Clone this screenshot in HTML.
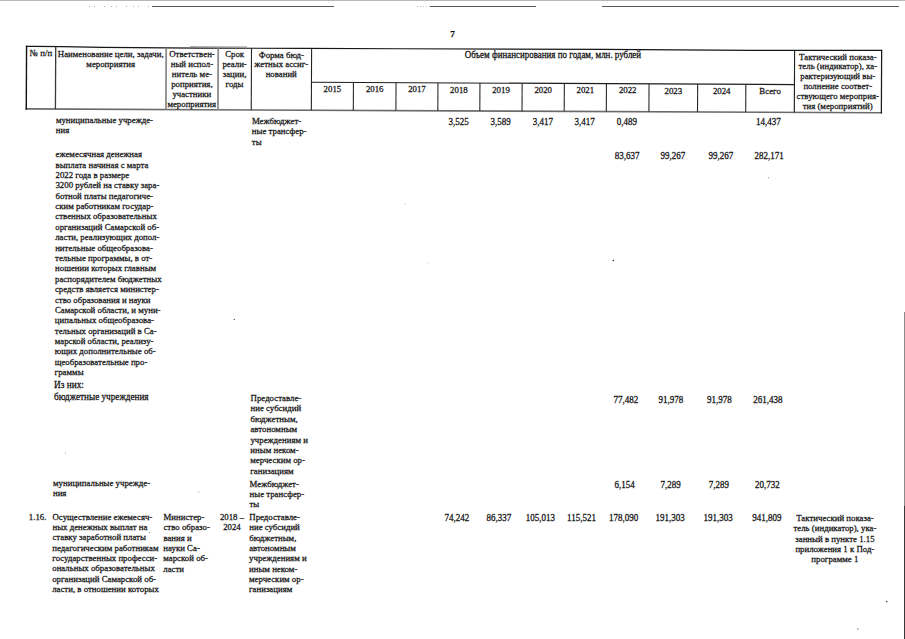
<!DOCTYPE html>
<html><head><meta charset="utf-8"><title>7</title>
<style>
html,body{margin:0;padding:0;background:#fff;}
body{width:905px;height:639px;overflow:hidden;position:relative;font-family:"Liberation Serif",serif;color:#161616;}
svg{position:absolute;left:0;top:0;}
.t{position:absolute;white-space:nowrap;font-size:8.8px;line-height:10px;-webkit-text-stroke:0.26px #161616;transform:scaleY(1.05);transform-origin:0 8px;}
.c{text-align:center;}
.pn{position:absolute;left:450.2px;top:28.6px;font-size:9.2px;font-weight:bold;line-height:10px;-webkit-text-stroke:0.25px #111;color:#111;}
</style></head><body>
<svg width="905" height="639" viewBox="0 0 905 639">
<rect x="0" y="0" width="905" height="1" fill="#b8b8b8"/>
<g stroke-linecap="butt">
<line x1="152" y1="6.5" x2="334" y2="6.5" stroke="#5a5a5a" stroke-width="1"/>
<line x1="430" y1="6.5" x2="536" y2="6.5" stroke="#5a5a5a" stroke-width="1"/>
<line x1="602" y1="6.5" x2="899" y2="6.5" stroke="#5a5a5a" stroke-width="1"/>
<polyline fill="none" stroke="#161616" stroke-width="1.2" points="25.80,46.40 34.00,46.46 62.00,46.70 102.00,47.35 200.00,48.10 302.00,48.38 400.00,48.75 602.00,49.41 752.00,50.35 869.00,50.38 882.20,50.45"/>
<line x1="190" y1="46.75" x2="247" y2="47.0" stroke="#777" stroke-width="0.8"/>
<line x1="25.6" y1="108.89" x2="882.2" y2="112.81" stroke="#6a6a6a" stroke-width="1.6"/>
<line x1="26.56" y1="45.80" x2="26.27" y2="109.69" stroke="#111" stroke-width="1.4"/>
<line x1="881.65" y1="49.80" x2="881.36" y2="113.60" stroke="#1a1a1a" stroke-width="1.25"/>
<line x1="55.72" y1="46.64" x2="55.43" y2="109.02" stroke="#3a3a3a" stroke-width="1.3"/>
<line x1="166.21" y1="47.84" x2="165.93" y2="109.53" stroke="#8c8c8c" stroke-width="1.8"/>
<line x1="218.21" y1="48.15" x2="217.93" y2="109.77" stroke="#8c8c8c" stroke-width="1.8"/>
<line x1="251.51" y1="48.24" x2="251.23" y2="109.92" stroke="#262626" stroke-width="1.1"/>
<line x1="311.61" y1="48.42" x2="311.33" y2="110.20" stroke="#222" stroke-width="1.1"/>
<line x1="794.60" y1="50.36" x2="794.32" y2="112.41" stroke="#222" stroke-width="1.15"/>
<line x1="311.4" y1="82.27" x2="794.4" y2="84.55" stroke="#1c1c1c" stroke-width="1.15"/>
<line x1="353.45" y1="82.47" x2="353.32" y2="110.39" stroke="#2a2a2a" stroke-width="1.1"/>
<line x1="396.05" y1="82.67" x2="395.92" y2="110.58" stroke="#2a2a2a" stroke-width="1.1"/>
<line x1="437.95" y1="82.87" x2="437.82" y2="110.78" stroke="#2a2a2a" stroke-width="1.1"/>
<line x1="479.95" y1="83.06" x2="479.82" y2="110.97" stroke="#2a2a2a" stroke-width="1.1"/>
<line x1="522.15" y1="83.26" x2="522.02" y2="111.16" stroke="#2a2a2a" stroke-width="1.1"/>
<line x1="564.35" y1="83.46" x2="564.22" y2="111.35" stroke="#2a2a2a" stroke-width="1.1"/>
<line x1="606.45" y1="83.66" x2="606.32" y2="111.55" stroke="#2a2a2a" stroke-width="1.1"/>
<line x1="649.05" y1="83.86" x2="648.92" y2="111.74" stroke="#2a2a2a" stroke-width="1.1"/>
<line x1="697.65" y1="84.09" x2="697.52" y2="111.96" stroke="#2a2a2a" stroke-width="1.1"/>
<line x1="745.84" y1="84.32" x2="745.72" y2="112.19" stroke="#2a2a2a" stroke-width="1.1"/>
<line x1="904.5" y1="312" x2="904.5" y2="505.5" stroke="#8a8a8a" stroke-width="1"/>
<line x1="904.5" y1="505.5" x2="904.5" y2="639" stroke="#383838" stroke-width="1"/>
<line x1="89" y1="6.5" x2="152" y2="6.5" stroke="#b0b0b0" stroke-width="1" stroke-dasharray="1 4 1 9 1 6"/>
<line x1="417" y1="6.5" x2="430" y2="6.5" stroke="#c0c0c0" stroke-width="1" stroke-dasharray="1 2"/>
</g>
<g fill="#555">
<circle cx="768.5" cy="177.7" r="0.6" fill="#999"/>
<circle cx="405" cy="204" r="0.6" fill="#bbb"/>
<circle cx="428" cy="263" r="0.6" fill="#ccc"/>
<circle cx="613.3" cy="260.5" r="0.75" fill="#222"/>
<circle cx="65.4" cy="453.1" r="0.6" fill="#999"/>
<circle cx="198.7" cy="491.8" r="0.6" fill="#999"/>
<circle cx="886.7" cy="601.6" r="0.8" fill="#444"/>
<circle cx="857.8" cy="629" r="0.7" fill="#777"/>
<circle cx="149.5" cy="532.5" r="0.5" fill="#777"/>
<circle cx="234.3" cy="319.4" r="0.7" fill="#555"/>
</g>
</svg>
<div class="pn">7</div>
<div class="t c" style="left:23.50px;width:35.00px;top:47.80px;">№ п/п</div>
<div class="t c" style="left:52.50px;width:116.50px;top:48.70px;">Наименование цели, задачи,</div>
<div class="t c" style="left:52.45px;width:116.50px;top:58.65px;">мероприятия</div>
<div class="t c" style="left:163.00px;width:58.00px;top:49.30px;">Ответствен-</div>
<div class="t c" style="left:162.95px;width:58.00px;top:59.25px;">ный испол-</div>
<div class="t c" style="left:162.91px;width:58.00px;top:69.20px;">нитель ме-</div>
<div class="t c" style="left:162.86px;width:58.00px;top:79.15px;">роприятия,</div>
<div class="t c" style="left:162.82px;width:58.00px;top:89.10px;">участники</div>
<div class="t c" style="left:162.77px;width:58.00px;top:99.05px;">мероприятия</div>
<div class="t c" style="left:215.00px;width:39.30px;top:49.40px;">Срок</div>
<div class="t c" style="left:214.95px;width:39.30px;top:59.35px;">реали-</div>
<div class="t c" style="left:214.91px;width:39.30px;top:69.30px;">зации,</div>
<div class="t c" style="left:214.86px;width:39.30px;top:79.25px;">годы</div>
<div class="t c" style="left:248.30px;width:66.10px;top:49.50px;">Форма бюд-</div>
<div class="t c" style="left:248.25px;width:66.10px;top:59.45px;">жетных ассиг-</div>
<div class="t c" style="left:248.21px;width:66.10px;top:69.40px;">нований</div>
<div class="t c" style="left:308.40px;width:489.00px;top:49.70px;font-size:8.95px;">Объем финансирования по годам, млн. рублей</div>
<div class="t c" style="left:308.40px;width:48.00px;top:84.01px;">2015</div>
<div class="t c" style="left:350.40px;width:48.60px;top:84.20px;">2016</div>
<div class="t c" style="left:393.00px;width:47.90px;top:84.40px;">2017</div>
<div class="t c" style="left:434.90px;width:48.00px;top:84.59px;">2018</div>
<div class="t c" style="left:476.90px;width:48.20px;top:84.78px;">2019</div>
<div class="t c" style="left:519.10px;width:48.20px;top:84.98px;">2020</div>
<div class="t c" style="left:561.30px;width:48.10px;top:85.17px;">2021</div>
<div class="t c" style="left:603.40px;width:48.60px;top:85.37px;">2022</div>
<div class="t c" style="left:646.00px;width:54.60px;top:85.58px;">2023</div>
<div class="t c" style="left:694.60px;width:54.20px;top:85.80px;">2024</div>
<div class="t c" style="left:742.80px;width:54.60px;top:86.02px;">Всего</div>
<div class="t c" style="left:791.40px;width:93.00px;top:51.60px;">Тактический показа-</div>
<div class="t c" style="left:791.35px;width:93.00px;top:61.40px;">тель (индикатор), ха-</div>
<div class="t c" style="left:791.31px;width:93.00px;top:71.20px;">рактеризующий вы-</div>
<div class="t c" style="left:791.26px;width:93.00px;top:81.00px;">полнение соответ-</div>
<div class="t c" style="left:791.22px;width:93.00px;top:90.80px;">ствующего мероприя-</div>
<div class="t c" style="left:791.17px;width:93.00px;top:100.60px;">тия (мероприятий)</div>
<div class="t" style="left:55.90px;top:115.30px;">муниципальные учрежде-</div>
<div class="t" style="left:55.85px;top:125.30px;">ния</div>
<div class="t" style="left:251.90px;top:115.80px;">Межбюджет-</div>
<div class="t" style="left:251.85px;top:126.30px;">ные трансфер-</div>
<div class="t" style="left:251.80px;top:136.80px;">ты</div>
<div class="t" style="left:448.60px;top:117.00px;font-size:9.0px;">3,525</div>
<div class="t" style="left:490.40px;top:117.00px;font-size:9.0px;">3,589</div>
<div class="t" style="left:532.70px;top:117.00px;font-size:9.0px;">3,417</div>
<div class="t" style="left:574.50px;top:117.00px;font-size:9.0px;">3,417</div>
<div class="t" style="left:616.80px;top:117.00px;font-size:9.0px;">0,489</div>
<div class="t" style="left:755.90px;top:117.00px;font-size:9.0px;">14,437</div>
<div class="t" style="left:55.60px;top:149.20px;">ежемесячная денежная</div>
<div class="t" style="left:55.55px;top:159.58px;">выплата начиная с марта</div>
<div class="t" style="left:55.50px;top:169.96px;">2022 года в размере</div>
<div class="t" style="left:55.46px;top:180.34px;">3200 рублей на ставку зара-</div>
<div class="t" style="left:55.41px;top:190.72px;">ботной платы педагогиче-</div>
<div class="t" style="left:55.36px;top:201.10px;">ским работникам государ-</div>
<div class="t" style="left:55.31px;top:211.48px;">ственных образовательных</div>
<div class="t" style="left:55.27px;top:221.86px;">организаций Самарской об-</div>
<div class="t" style="left:55.22px;top:232.24px;">ласти, реализующих допол-</div>
<div class="t" style="left:55.17px;top:242.62px;">нительные общеобразова-</div>
<div class="t" style="left:55.12px;top:253.00px;">тельные программы, в от-</div>
<div class="t" style="left:55.07px;top:263.38px;">ношении которых главным</div>
<div class="t" style="left:55.03px;top:273.76px;">распорядителем бюджетных</div>
<div class="t" style="left:54.98px;top:284.14px;">средств является министер-</div>
<div class="t" style="left:54.93px;top:294.52px;">ство образования и науки</div>
<div class="t" style="left:54.88px;top:304.90px;">Самарской области, и муни-</div>
<div class="t" style="left:54.84px;top:315.28px;">ципальных общеобразова-</div>
<div class="t" style="left:54.79px;top:325.66px;">тельных организаций в Са-</div>
<div class="t" style="left:54.74px;top:336.04px;">марской области, реализу-</div>
<div class="t" style="left:54.69px;top:346.42px;">ющих дополнительные об-</div>
<div class="t" style="left:54.65px;top:356.80px;">щеобразовательные про-</div>
<div class="t" style="left:54.60px;top:367.18px;">граммы</div>
<div class="t" style="left:614.70px;top:151.20px;font-size:9.0px;">83,637</div>
<div class="t" style="left:660.50px;top:151.20px;font-size:9.0px;">99,267</div>
<div class="t" style="left:708.50px;top:151.20px;font-size:9.0px;">99,267</div>
<div class="t" style="left:754.40px;top:151.20px;font-size:9.0px;">282,171</div>
<div class="t" style="left:54.00px;top:379.60px;font-size:9.3px;">Из них:</div>
<div class="t" style="left:54.00px;top:392.00px;font-size:9.2px;">бюджетные учреждения</div>
<div class="t" style="left:250.60px;top:393.00px;">Предоставле-</div>
<div class="t" style="left:250.55px;top:403.40px;">ние субсидий</div>
<div class="t" style="left:250.50px;top:413.80px;">бюджетным,</div>
<div class="t" style="left:250.46px;top:424.20px;">автономным</div>
<div class="t" style="left:250.41px;top:434.60px;">учреждениям и</div>
<div class="t" style="left:250.36px;top:445.00px;">иным неком-</div>
<div class="t" style="left:250.31px;top:455.40px;">мерческим ор-</div>
<div class="t" style="left:250.27px;top:465.80px;">ганизациям</div>
<div class="t" style="left:613.40px;top:394.90px;font-size:9.0px;">77,482</div>
<div class="t" style="left:658.60px;top:394.90px;font-size:9.0px;">91,978</div>
<div class="t" style="left:706.90px;top:394.90px;font-size:9.0px;">91,978</div>
<div class="t" style="left:753.30px;top:394.90px;font-size:9.0px;">261,438</div>
<div class="t" style="left:53.00px;top:477.60px;">муниципальные учрежде-</div>
<div class="t" style="left:52.95px;top:487.90px;">ния</div>
<div class="t" style="left:249.60px;top:478.70px;">Межбюджет-</div>
<div class="t" style="left:249.55px;top:489.00px;">ные трансфер-</div>
<div class="t" style="left:249.51px;top:499.30px;">ты</div>
<div class="t" style="left:614.50px;top:480.20px;font-size:9.0px;">6,154</div>
<div class="t" style="left:660.50px;top:480.20px;font-size:9.0px;">7,289</div>
<div class="t" style="left:708.70px;top:480.20px;font-size:9.0px;">7,289</div>
<div class="t" style="left:754.90px;top:480.20px;font-size:9.0px;">20,732</div>
<div class="t" style="left:28.80px;top:511.60px;">1.16.</div>
<div class="t" style="left:52.50px;top:511.60px;">Осуществление ежемесяч-</div>
<div class="t" style="left:52.45px;top:521.95px;">ных денежных выплат на</div>
<div class="t" style="left:52.40px;top:532.30px;">ставку заработной платы</div>
<div class="t" style="left:52.36px;top:542.65px;">педагогическим работникам</div>
<div class="t" style="left:52.31px;top:553.00px;">государственных професси-</div>
<div class="t" style="left:52.26px;top:563.35px;">ональных образовательных</div>
<div class="t" style="left:52.21px;top:573.70px;">организаций Самарской об-</div>
<div class="t" style="left:52.17px;top:584.05px;">ласти, в отношении которых</div>
<div class="t" style="left:163.50px;top:512.00px;">Министер-</div>
<div class="t" style="left:163.45px;top:522.30px;">ство образо-</div>
<div class="t" style="left:163.41px;top:532.60px;">вания и</div>
<div class="t" style="left:163.36px;top:542.90px;">науки Са-</div>
<div class="t" style="left:163.31px;top:553.20px;">марской об-</div>
<div class="t" style="left:163.26px;top:563.50px;">ласти</div>
<div class="t c" style="left:211.00px;width:42.00px;top:512.00px;">2018 –</div>
<div class="t c" style="left:210.95px;width:42.00px;top:522.00px;">2024</div>
<div class="t" style="left:249.30px;top:512.00px;">Предоставле-</div>
<div class="t" style="left:249.25px;top:522.35px;">ние субсидий</div>
<div class="t" style="left:249.20px;top:532.70px;">бюджетным,</div>
<div class="t" style="left:249.16px;top:543.05px;">автономным</div>
<div class="t" style="left:249.11px;top:553.40px;">учреждениям и</div>
<div class="t" style="left:249.06px;top:563.75px;">иным неком-</div>
<div class="t" style="left:249.01px;top:574.10px;">мерческим ор-</div>
<div class="t" style="left:248.97px;top:584.45px;">ганизациям</div>
<div class="t" style="left:444.60px;top:513.20px;font-size:9.0px;">74,242</div>
<div class="t" style="left:486.40px;top:513.20px;font-size:9.0px;">86,337</div>
<div class="t" style="left:525.70px;top:513.20px;font-size:9.0px;">105,013</div>
<div class="t" style="left:567.10px;top:513.20px;font-size:9.0px;">115,521</div>
<div class="t" style="left:608.90px;top:513.20px;font-size:9.0px;">178,090</div>
<div class="t" style="left:655.50px;top:513.20px;font-size:9.0px;">191,303</div>
<div class="t" style="left:703.50px;top:513.20px;font-size:9.0px;">191,303</div>
<div class="t" style="left:752.30px;top:513.20px;font-size:9.0px;">941,809</div>
<div class="t c" style="left:788.00px;width:94.00px;top:513.40px;">Тактический показа-</div>
<div class="t c" style="left:787.95px;width:94.00px;top:523.45px;">тель (индикатор), ука-</div>
<div class="t c" style="left:787.91px;width:94.00px;top:533.50px;">занный в пункте 1.15</div>
<div class="t c" style="left:787.86px;width:94.00px;top:543.55px;">приложения 1 к Под-</div>
<div class="t c" style="left:787.82px;width:94.00px;top:553.60px;">программе 1</div>
</body></html>
